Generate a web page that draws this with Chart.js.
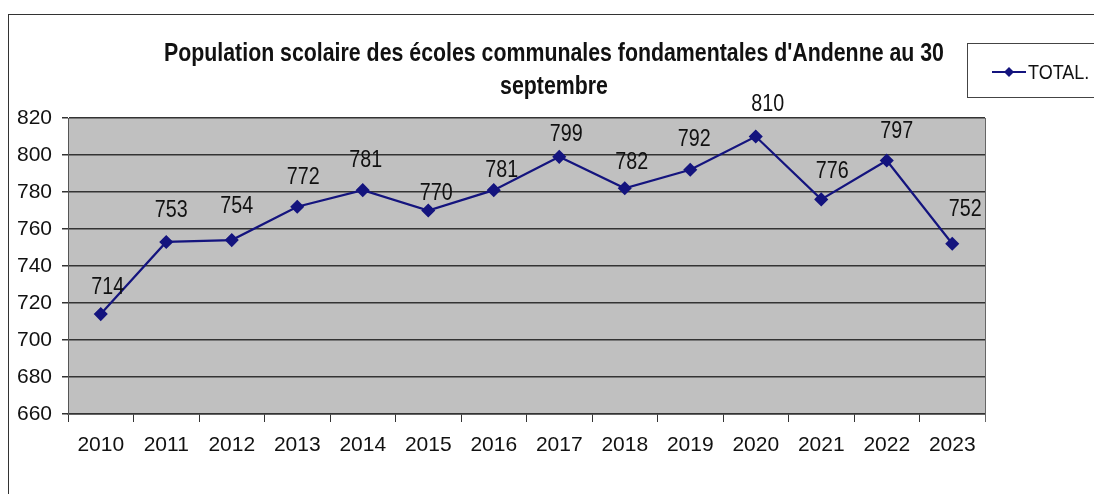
<!DOCTYPE html>
<html>
<head>
<meta charset="utf-8">
<script src="https://cdn.jsdelivr.net/npm/chart.js@4"></script>
<style>
  body { margin: 0; background: #fff; }
  #wrap { width: 1094px; height: 494px; }
</style>
</head>
<body>
<div id="wrap"><canvas id="popChart"></canvas></div>
<script>
const years = ['2010', '2011', '2012', '2013', '2014', '2015', '2016', '2017', '2018', '2019', '2020', '2021', '2022', '2023'];
const totals = [714, 753, 754, 772, 781, 770, 781, 799, 782, 792, 810, 776, 797, 752];
const seriesName = 'TOTAL.';
const titleLines = ["Population scolaire des écoles communales fondamentales d'Andenne au 30", 'septembre'];
const yMin = 660, yMax = 820, yStep = 20;

// where each value label sits relative to its point (as in the original sheet)
const labelShift = [[7,-27],[5,-32],[5,-34],[6,-29],[3,-30],[8,-17],[8,-20],[7,-22],[7,-26],[4,-30],[12,-32],[11,-28],[10,-29],[13,-34]];

const FONT = "'Liberation Sans', Arial, sans-serif";
const NAVY = '#14147e';

// no narrow font installed: squeeze text horizontally
function narrowText(ctx, txt, x, y, sx) {
  ctx.save();
  ctx.translate(x, y);
  ctx.scale(sx, 1);
  ctx.fillText(txt, 0, 0);
  ctx.restore();
}

const decor = {
  id: 'decor',
  beforeDraw(chart) {
    const { ctx, chartArea: a } = chart;
    ctx.save();
    ctx.fillStyle = '#c0c0c0';
    ctx.fillRect(a.left, a.top, a.right - a.left, a.bottom - a.top);
    ctx.restore();
  },
  afterDraw(chart) {
    const { ctx, chartArea: a } = chart;
    ctx.save();
    // outer frame
    ctx.strokeStyle = '#333';
    ctx.lineWidth = 1;
    ctx.strokeRect(8.5, 14.5, 1300, 600);
    // right border of plot
    ctx.strokeStyle = '#666';
    ctx.beginPath();
    ctx.moveTo(a.right + 0.5, a.top);
    ctx.lineTo(a.right + 0.5, a.bottom + 8);
    ctx.stroke();

    // title
    ctx.fillStyle = '#111';
    ctx.font = "bold 26px " + FONT;
    ctx.textAlign = 'center';
    ctx.textBaseline = 'middle';
    narrowText(ctx, titleLines[0], 554, 54, 0.82);
    narrowText(ctx, titleLines[1], 554, 87, 0.82);

    // legend box
    ctx.strokeStyle = '#444';
    ctx.lineWidth = 1;
    ctx.strokeRect(967.5, 43.5, 300, 54);
    ctx.strokeStyle = NAVY;
    ctx.lineWidth = 2;
    ctx.beginPath();
    ctx.moveTo(992, 72);
    ctx.lineTo(1026, 72);
    ctx.stroke();
    ctx.fillStyle = NAVY;
    ctx.beginPath();
    ctx.moveTo(1009, 67); ctx.lineTo(1014, 72); ctx.lineTo(1009, 77); ctx.lineTo(1004, 72);
    ctx.closePath();
    ctx.fill();
    ctx.fillStyle = '#111';
    ctx.font = "20px " + FONT;
    ctx.textAlign = 'left';
    narrowText(ctx, chart.data.datasets[0].label, 1028, 73, 0.9);

    // value labels
    const meta = chart.getDatasetMeta(0);
    ctx.font = "24px " + FONT;
    ctx.textAlign = 'center';
    meta.data.forEach((pt, i) => {
      const s = labelShift[i];
      narrowText(ctx, String(chart.data.datasets[0].data[i]), pt.x + s[0], pt.y + s[1], 0.82);
    });
    ctx.restore();
  }
};

new Chart(document.getElementById('popChart'), {
  type: 'line',
  data: {
    labels: years,
    datasets: [{
      label: seriesName,
      data: totals,
      borderColor: NAVY,
      backgroundColor: NAVY,
      borderWidth: 2.2,
      pointStyle: 'rectRot',
      pointRadius: 5.5,
      pointHoverRadius: 5.5,
      tension: 0
    }]
  },
  options: {
    responsive: true,
    maintainAspectRatio: false,
    animation: false,
    layout: { padding: { top: 118, right: 109, bottom: 0, left: 0 } },
    plugins: {
      legend: { display: false },
      title: { display: false },
      tooltip: { enabled: false }
    },
    scales: {
      x: {
        offset: true,
        grid: { offset: true, drawOnChartArea: false, drawTicks: true, tickLength: 8, color: '#333', lineWidth: 1 },
        border: { display: true, color: '#333', width: 1.5 },
        ticks: { color: '#111', font: { family: FONT, size: 21 }, padding: 11, maxRotation: 0, autoSkip: false },
        afterFit(scale) { scale.height = 80; }
      },
      y: {
        min: yMin,
        max: yMax,
        grid: { color: '#333', lineWidth: 1.5, tickLength: 6 },
        border: { display: true, color: '#555', width: 1 },
        ticks: { stepSize: yStep, color: '#111', font: { family: FONT, size: 21 }, padding: 10 },
        afterFit(scale) { scale.width = 68; }
      }
    }
  },
  plugins: [decor]
});
</script>
</body>
</html>
